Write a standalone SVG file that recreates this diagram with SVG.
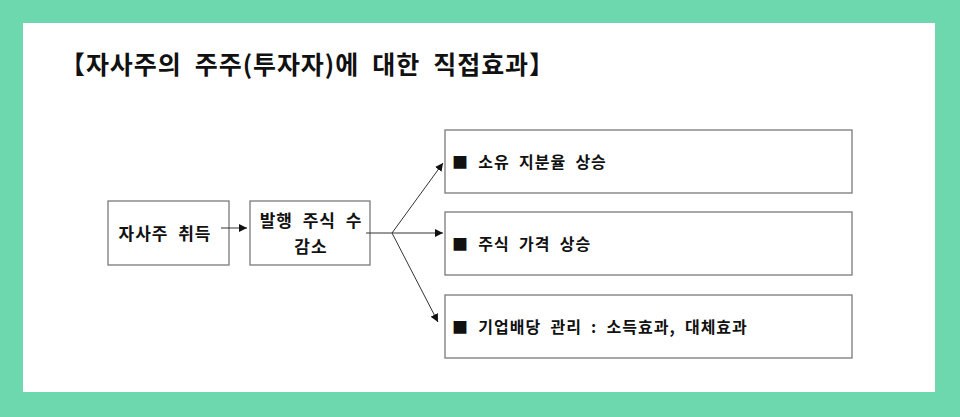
<svg xmlns="http://www.w3.org/2000/svg" width="960" height="417" viewBox="0 0 960 417">
<style>
.b{fill:#fff;stroke:#7a7a7a;stroke-width:1.3}
.t{font-family:"Noto Sans CJK KR",sans-serif;font-weight:bold;fill:#111;white-space:pre;letter-spacing:1px}
.c{stroke:#333;stroke-width:1;fill:none}
</style>
<defs><marker id="a" viewBox="0 0 10 10" refX="10" refY="5" markerWidth="8" markerHeight="8" markerUnits="userSpaceOnUse" orient="auto"><path d="M0,0L10,5L0,10z" fill="#111"/></marker></defs>
<rect width="960" height="417" fill="#6dd8ad"/>
<rect x="23" y="23" width="912" height="369" fill="#fff"/>
<text class="t" x="60" y="74" font-size="25" textLength="495">【자사주의  주주(투자자)에  대한  직접효과】</text>
<g id="n1"><rect class="b" x="108" y="201" width="121" height="64"/><text class="t" x="165" y="240" font-size="17" text-anchor="middle">자사주  취득</text></g>
<g id="n2"><rect class="b" x="250" y="201" width="120" height="64"/><text class="t" x="311" y="227" font-size="17" text-anchor="middle">발행  주식  수</text><text class="t" x="311" y="253" font-size="17" text-anchor="middle">감소</text></g>
<g id="n3"><rect class="b" x="445" y="130" width="407" height="63"/><text class="t" x="452" y="168" font-size="16">■  소유  지분율  상승</text></g>
<g id="n4"><rect class="b" x="445" y="212" width="407" height="63"/><text class="t" x="452" y="250" font-size="16">■  주식  가격  상승</text></g>
<g id="n5"><rect class="b" x="445" y="295" width="407" height="63"/><text class="t" x="452" y="333" font-size="16">■  기업배당  관리  :  소득효과,  대체효과</text></g>
<g id="connectors">
<path class="c" d="M221,228H247" marker-end="url(#a)"/>
<path class="c" d="M366,233H392"/>
<path class="c" d="M392,233L443,163" marker-end="url(#a)"/>
<path class="c" d="M392,233H443" marker-end="url(#a)"/>
<path class="c" d="M392,233L438,322" marker-end="url(#a)"/>
</g>
</svg>
